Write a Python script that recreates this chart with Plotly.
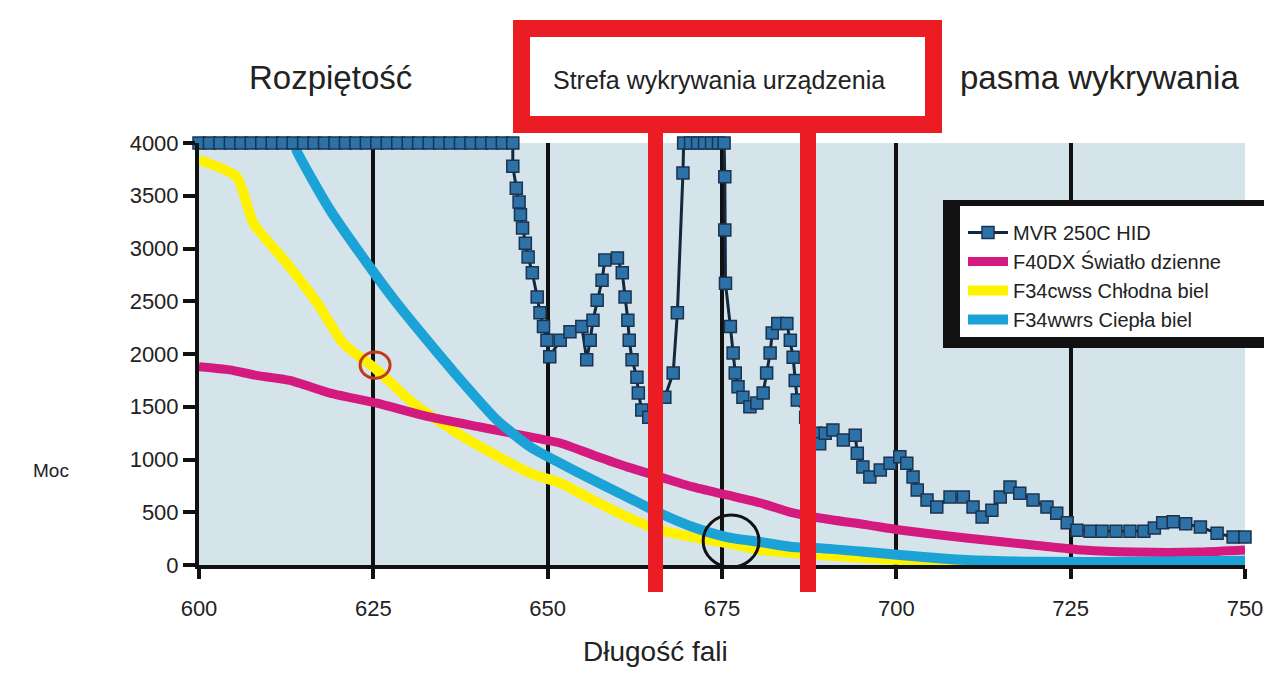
import plotly.graph_objects as go

# ---------------- data ----------------
x_ticks = [600, 625, 650, 675, 700, 725, 750]
y_ticks = [0, 500, 1000, 1500, 2000, 2500, 3000, 3500, 4000]

mvr_x = [600, 601.5, 603, 604.5, 606, 607.5, 609, 610.5, 612, 613.5, 615, 616.5, 618, 619.5,
         621, 622.5, 624, 625.5, 627, 628.5, 630, 631.5, 633, 634.5, 636, 637.5, 639, 640.5,
         642, 643.5, 645,
         645.0, 645.5, 645.9, 646.1, 646.4, 646.8, 647.2, 647.8, 648.5, 648.9, 649.4, 649.9,
         650.3, 651.8, 653.2, 654.9, 655.6, 656.1, 656.5, 657.1, 657.8, 658.2, 660.0, 660.7,
         661.1, 661.5, 661.7, 662.1, 662.8, 663.0, 663.5, 664.5, 665.5, 666.8, 668.0, 668.6,
         669.4, 669.5, 670.5, 671.5, 672.5, 673.5, 674.5, 675.3, 675.4, 675.4, 675.5, 676.2,
         676.6, 676.9, 677.3, 678.0, 679.0, 680.0, 680.9, 681.4, 681.9, 682.2, 683.0, 684.3,
         684.8, 685.2, 685.5, 685.8, 687.0, 688.5, 689.0, 689.8, 690.9, 692.4, 694.1, 694.4,
         695.2, 696.2, 697.7, 699.1, 700.5, 701.5, 702.4, 703.0, 704.4, 705.8, 707.7, 709.6,
         711.0, 712.3, 713.7, 714.9, 716.3, 717.7, 719.6, 721.6, 723.0, 724.5, 725.9, 727.8,
         729.5, 731.5, 733.5, 735.5, 737.0, 738.2, 739.7, 741.5, 743.6, 746.0, 748.3, 750.0]
mvr_y = [4000] * 31 + [
         3780, 3570, 3440, 3320, 3195, 3050, 2920, 2770, 2540, 2390, 2260, 2130,
         1975, 2130, 2210, 2260, 1945, 2130, 2320, 2510, 2700, 2890, 2910, 2770,
         2540, 2320, 2130, 1945, 1780, 1630, 1470, 1400, 1450, 1590, 1820, 2390,
         3715, 4000, 4000, 4000, 4000, 4000, 4000, 4000, 3680, 3175, 2670, 2260,
         2010, 1820, 1690, 1590, 1500, 1535, 1630, 1820, 2010, 2200, 2290, 2290,
         2130, 1970, 1750, 1565, 1400, 1250, 1150, 1250, 1280, 1185, 1230, 1060,
         930, 835, 900, 965, 1025, 965, 835, 710, 615, 550, 645, 645,
         550, 455, 520, 645, 740, 680, 615, 550, 490, 400, 330, 320,
         320, 320, 320, 320, 350, 400, 410, 390, 360, 300, 265, 265]

f40_x = [600, 604.4, 608, 613, 618.8, 625.5, 633.1, 640.3, 647.5, 651.8, 656.5, 661.4, 666.1,
         670.8, 675.7, 680.5, 685.2, 689, 695.8, 700.5, 710, 719.6, 726.8, 734, 743.6, 750]
f40_y = [1880, 1850, 1800, 1750, 1630, 1535, 1403, 1308, 1215, 1156, 1043, 930, 835,
         740, 664, 588, 493, 445, 380, 332, 256, 190, 142, 123, 123, 142]

cwss_x = [600, 605.4, 607.8, 612.6, 617, 620.7, 625.5, 630.7, 637.9, 647.5, 651.8, 656.5,
          661.4, 666.1, 670.8, 675.7, 680.5, 690, 700, 710, 725, 750]
cwss_y = [3840, 3680, 3240, 2860, 2480, 2100, 1850, 1535, 1215, 870, 777, 616,
          455, 332, 265, 208, 142, 90, 50, 30, 15, 5]

wwrs_x = [613.8, 614, 618.8, 624.5, 628.4, 633.1, 637.9, 642.7, 647.5, 651.8, 656.5, 661.4,
          666.1, 670.8, 675.7, 680.5, 685.2, 689, 695.8, 700.5, 710, 720, 735, 750]
wwrs_y = [4000, 3930, 3365, 2825, 2480, 2100, 1725, 1375, 1120, 965, 805, 645,
          490, 360, 265, 218, 170, 160, 123, 95, 47, 30, 30, 40]

names = ["MVR 250C HID", "F40DX Światło dzienne", "F34cwss Chłodna biel", "F34wwrs Ciepła biel"]

# ---------------- layout geometry ----------------
# the page body has an 8px margin, so the figure is sized/placed to compensate
OFF = 8
W, H = 1272 - OFF, 688 - OFF
PLOT_L, PLOT_R, PLOT_T, PLOT_B = 199, 1245, 143, 565      # target page pixels
L, T = PLOT_L - OFF, PLOT_T - OFF
R, B = W - (PLOT_R - OFF), H - (PLOT_B - OFF)
PW, PH = PLOT_R - PLOT_L, PLOT_B - PLOT_T
FONT = "Liberation Sans, Arial, sans-serif"
TXT = "#222222"
RED = "#ec1c24"


def px(xp):
    return (xp - PLOT_L) / PW


def py(yp):
    return (PLOT_B - yp) / PH


fig = go.Figure()

fig.add_trace(go.Scatter(x=cwss_x, y=cwss_y, mode="lines", name=names[2], legendrank=3,
                         line=dict(color="#fff200", width=10, shape="spline", smoothing=0.6)))
fig.add_trace(go.Scatter(x=f40_x, y=f40_y, mode="lines", name=names[1], legendrank=2,
                         line=dict(color="#d4197f", width=9, shape="spline", smoothing=0.6)))
fig.add_trace(go.Scatter(x=wwrs_x, y=wwrs_y, mode="lines", name=names[3], legendrank=4,
                         line=dict(color="#1ba2d6", width=10, shape="spline", smoothing=0.6)))
fig.add_trace(go.Scatter(x=mvr_x, y=mvr_y, mode="lines+markers", name=names[0], legendrank=1,
                         cliponaxis=False,
                         line=dict(color="#14283d", width=3),
                         marker=dict(symbol="square", size=12, color="#2c72a6",
                                     line=dict(color="#1a3350", width=1.5))))

shapes = []
# legend box with heavy shadow
shapes.append(dict(type="rect", xref="paper", yref="paper", layer="above",
                   x0=px(943), x1=px(1280), y0=py(348), y1=py(200),
                   fillcolor="#111111", line=dict(width=0)))
shapes.append(dict(type="rect", xref="paper", yref="paper", layer="above",
                   x0=px(960), x1=px(1280), y0=py(337), y1=py(206),
                   fillcolor="white", line=dict(width=0)))
# red detection box
shapes.append(dict(type="rect", xref="paper", yref="paper", layer="above",
                   x0=px(521.5), x1=px(933.5), y0=py(124.5), y1=py(28.5),
                   fillcolor="white", line=dict(color=RED, width=17)))
# red vertical bars
for a, b in [(648, 663), (800, 816)]:
    shapes.append(dict(type="rect", xref="paper", yref="paper", layer="above",
                       x0=px(a), x1=px(b), y0=py(592), y1=py(128),
                       fillcolor=RED, line=dict(width=0)))
# circles
shapes.append(dict(type="circle", xref="x", yref="y", layer="above",
                   x0=623.1, x1=627.4, y0=1770, y1=2020,
                   line=dict(color="#c23a1c", width=3)))
shapes.append(dict(type="circle", xref="x", yref="y", layer="above",
                   x0=672.3, x1=680.3, y0=-20, y1=475,
                   line=dict(color="#111111", width=3)))


def label(text, xp, yp, size):
    return dict(text=text, x=px(xp), y=py(yp), xref="paper", yref="paper",
                xanchor="center", yanchor="middle", showarrow=False,
                font=dict(size=size, color=TXT, family=FONT))


annotations = [
    label("Rozpiętość", 330, 78, 33),
    label("pasma wykrywania", 1099, 78, 33),
    label("Strefa wykrywania urządzenia", 719, 80, 25),
    label("Długość fali", 655, 651, 28),
    label("Moc", 51, 470, 19),
]

fig.update_layout(
    width=W, height=H,
    margin=dict(l=L, r=R, t=T, b=B, autoexpand=False),
    paper_bgcolor="white",
    plot_bgcolor="#d5e3ea",
    font=dict(family=FONT, color=TXT),
    shapes=shapes,
    annotations=annotations,
    showlegend=True,
    legend=dict(x=px(963), y=py(213), xanchor="left", yanchor="top",
                bgcolor="rgba(0,0,0,0)", borderwidth=0,
                font=dict(size=20, color=TXT, family=FONT),
                itemwidth=40, tracegroupgap=0),
)

fig.update_xaxes(range=[600, 750], tickvals=x_ticks, ticktext=[str(v) for v in x_ticks],
                 showgrid=True, gridcolor="#111111", gridwidth=4,
                 showline=True, linecolor="#111111", linewidth=4,
                 ticks="outside", ticklen=10, tickwidth=4, tickcolor="#111111",
                 zeroline=False, ticklabelstandoff=11,
                 tickfont=dict(size=22, color=TXT, family=FONT))
fig.update_yaxes(range=[0, 4000], tickvals=y_ticks, ticktext=[str(v) for v in y_ticks],
                 showgrid=False,
                 showline=True, linecolor="#111111", linewidth=4,
                 ticks="outside", ticklen=12, tickwidth=4, tickcolor="#111111",
                 zeroline=False,
                 tickfont=dict(size=22, color=TXT, family=FONT))

fig.write_html("out.html")
